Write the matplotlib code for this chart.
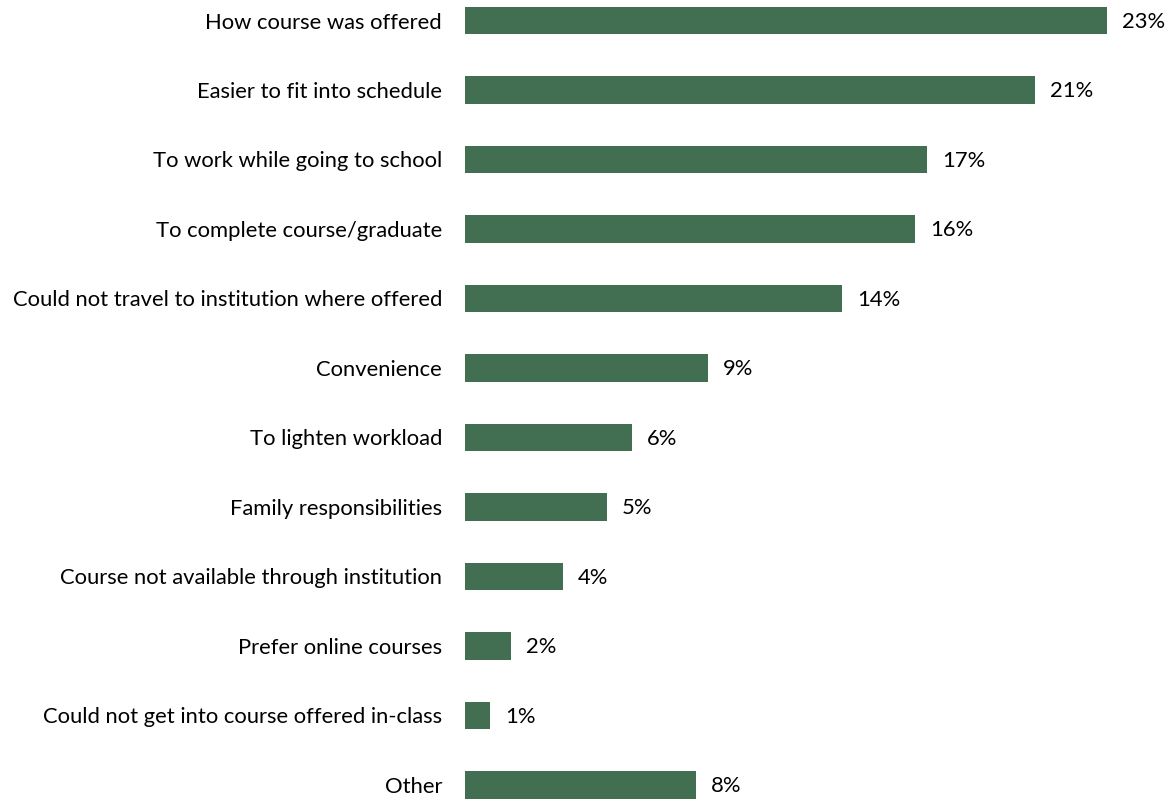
"""
Reasons for taking an online course - horizontal bar chart.
"""

import matplotlib
matplotlib.use("Agg")
import matplotlib.pyplot as plt

# ── Data ──────────────────────────────────────────────────────────────────────
categories = [
    "How course was offered",
    "Easier to fit into schedule",
    "To work while going to school",
    "To complete course/graduate",
    "Could not travel to institution where offered",
    "Convenience",
    "To lighten workload",
    "Family responsibilities",
    "Course not available through institution",
    "Prefer online courses",
    "Could not get into course offered in-class",
    "Other",
]
percent = [23.26, 20.65, 16.74, 16.30, 13.66, 8.80, 6.05, 5.14, 3.55, 1.67, 0.91, 8.37]

BAR_COLOR = "#426F52"
FONT = ["Lato", "DejaVu Sans"]
FONT_SIZE = 15.8

# ── Plot ──────────────────────────────────────────────────────────────────────
plt.rcParams["font.family"] = FONT

fig = plt.figure(figsize=(11.73, 8.0), dpi=100)
ax = fig.add_axes([465 / 1173, 0.0, 690 / 1173, 1.0])

rows = list(range(len(categories)))
ax.barh(rows, percent, height=0.39, color=BAR_COLOR)

for y, v in zip(rows, percent):
    ax.annotate(f"{v:.0f}%", xy=(v, y), xytext=(11.0, -1.0),
                textcoords="offset points", va="center", ha="left",
                fontsize=FONT_SIZE, color="black")

ax.set_xlim(0, 25)
ax.set_ylim(11.216, -0.295)
ax.set_yticks(rows)
ax.set_yticklabels(categories, fontsize=FONT_SIZE)
ax.tick_params(axis="y", length=0, pad=16.5)
ax.set_xticks([])
for side in ax.spines.values():
    side.set_visible(False)

fig.savefig("out.png", dpi=100)
